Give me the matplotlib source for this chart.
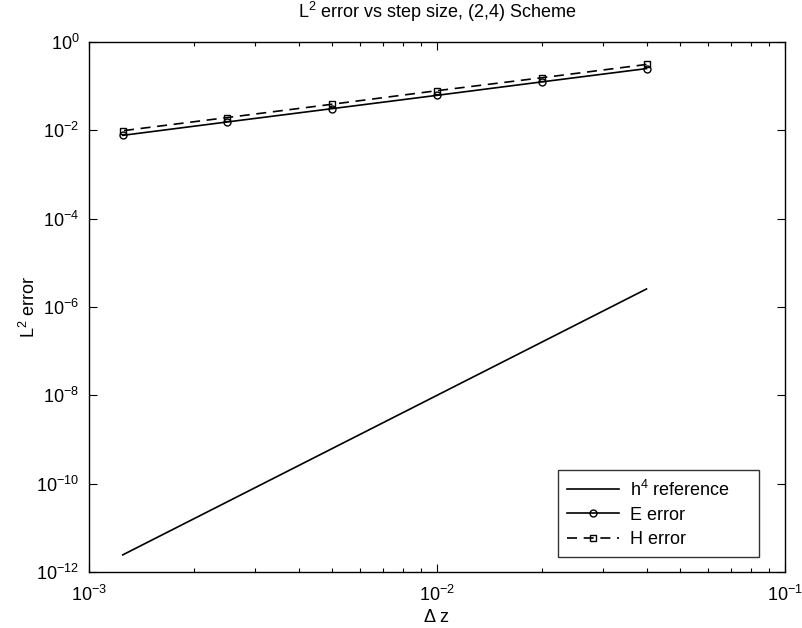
import numpy as np
import matplotlib.pyplot as plt
from matplotlib.ticker import LogLocator, NullLocator, LogFormatterMathtext

plt.rcParams['font.family'] = ['Liberation Sans', 'DejaVu Sans']
plt.rcParams['mathtext.fontset'] = 'custom'
plt.rcParams['mathtext.rm'] = 'Liberation Sans'
plt.rcParams['mathtext.it'] = 'Liberation Sans'

# step sizes and measured L2 errors
dz = [0.04, 0.02, 0.01, 0.005, 0.0025, 0.00125]
e_err = [0.25, 0.125, 0.062, 0.031, 0.0155, 0.0077]
h_err = [0.31, 0.155, 0.079, 0.039, 0.0195, 0.0098]
h4_ref = [h ** 4 for h in dz]

fs = 13

fig = plt.figure(figsize=(8.03, 6.28), dpi=100)
ax = fig.add_axes([89 / 803, 1 - 572 / 628, (785 - 89) / 803, (572 - 42) / 628])

ax.loglog(dz, h4_ref, 'k-', lw=1.2, label='h$^4$ reference')
ax.loglog(dz, e_err, 'k-', marker='o', ms=5, mfc='none', mew=1.0, lw=1.2, label='E error')
ax.loglog(dz, h_err, 'k--', marker='s', ms=5, mfc='none', mew=1.0, lw=1.2,
          dashes=(6, 4), label='H error')

ax.set_xlim(1e-3, 1e-1)
ax.set_ylim(1e-12, 1e0)
ax.set_yticks([10.0 ** k for k in range(-12, 1, 2)])
ax.yaxis.set_minor_locator(NullLocator())
ax.xaxis.set_minor_locator(LogLocator(base=10, subs=np.arange(2, 10)))
ax.yaxis.set_major_formatter(LogFormatterMathtext())
ax.tick_params(which='both', direction='in', top=True, right=True, labelsize=fs)
ax.tick_params(which='major', length=6, width=0.8)
ax.tick_params(which='minor', length=3, width=0.8)
ax.tick_params(axis='x', pad=9)
ax.tick_params(axis='y', pad=7)
for s in ax.spines.values():
    s.set_linewidth(1.0)

ax.set_title('L$^2$ error vs step size, (2,4) Scheme', fontsize=fs, pad=17)
ax.set_xlabel('\u0394 z', fontsize=fs, labelpad=3)
ax.set_ylabel('L$^2$ error', fontsize=fs)
ax.yaxis.set_label_coords(-0.072, 0.5)

# legend box stretched to a fixed width, entries left-aligned inside
leg = ax.legend(loc='lower left',
                bbox_to_anchor=(558 / 803, 1 - 557 / 628, 201 / 803, 88 / 628),
                bbox_transform=fig.transFigure, borderaxespad=0, mode='expand',
                fontsize=fs, frameon=True, fancybox=False, edgecolor='black',
                handlelength=2.9, handletextpad=0.6, labelspacing=0.4,
                borderpad=0.5)
leg.get_frame().set_linewidth(1.0)

fig.savefig('out.png', dpi=100)
